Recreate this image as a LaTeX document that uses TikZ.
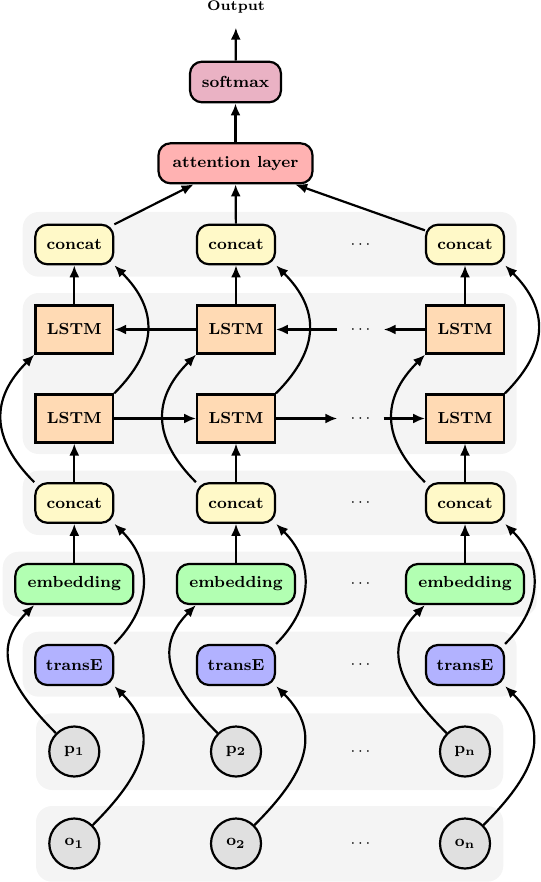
\documentclass[tikz,border=0pt]{standalone}
\usetikzlibrary{arrows.meta}
\definecolor{bandc}{RGB}{244,244,244}
\definecolor{softc}{RGB}{234,178,196}
\definecolor{attc}{RGB}{255,178,178}
\definecolor{catc}{RGB}{255,249,200}
\definecolor{lstmc}{RGB}{255,218,180}
\definecolor{embc}{RGB}{178,255,178}
\definecolor{tec}{RGB}{178,178,255}
\definecolor{circc}{RGB}{224,224,224}
\tikzset{
  box/.style={draw, line width=1.1pt, rounded corners=6pt, font=\footnotesize\bfseries, inner sep=0pt, minimum height=20pt},
  catbox/.style={box, fill=catc, minimum width=39pt, minimum height=19.75pt},
  lstmbox/.style={box, rounded corners=0pt, fill=lstmc, minimum width=38.8pt, minimum height=24pt},
  embbox/.style={box, fill=embc, minimum width=59pt},
  tebox/.style={box, fill=tec, minimum width=39pt},
  ent/.style={circle, draw, line width=1.1pt, fill=circc, minimum size=25pt, inner sep=0pt, font=\footnotesize},
  dotsnode/.style={inner sep=0pt, minimum width=22.75pt, font=\footnotesize},
  arr/.style={-{Latex[length=6pt,width=5pt]}, line width=1.1pt},
  band/.style={fill=bandc, rounded corners=8pt}
}
\begin{document}
\begin{tikzpicture}[x=0.5pt,y=-0.5pt]
\useasboundingbox (0,0) rectangle (540,882);
% background bands
\fill[band] (22.7,212) rectangle (516.7,276.7);
\fill[band] (22.7,293) rectangle (516.7,454);
\fill[band] (22.7,470.7) rectangle (516.7,535);
\fill[band] (2.7,551.7) rectangle (536.7,616.7);
\fill[band] (22.7,631.7) rectangle (516.7,696.7);
\fill[band] (36,713.3) rectangle (503.3,790);
\fill[band] (36,806) rectangle (503.3,881.7);
% top
\node[font=\scriptsize\bfseries, inner sep=0pt] (out) at (236,7) {Output};
\node[box, fill=softc, minimum width=45.5pt, minimum height=20.3pt] (sm) at (235.5,82) {softmax};
\node[box, fill=attc, minimum width=77pt] (att) at (235.5,163.3) {attention layer};
\draw[arr, shorten >=7pt] (sm) -- (out);
\draw[arr] (att) -- (sm);
% columns
\foreach \i/\x/\s in {1/74.3/1,2/236/2,3/465/n}{
  \node[catbox] (cT\i) at (\x,244.5) {concat};
  \node[lstmbox] (lU\i) at (\x,329.5) {LSTM};
  \node[lstmbox] (lL\i) at (\x,418.5) {LSTM};
  \node[catbox] (cM\i) at (\x,503) {concat};
  \node[embbox] (em\i) at (\x,584) {embedding};
  \node[tebox] (te\i) at (\x,665) {transE};
  \node[ent] (p\i) at (\x,751.5) {$\mathbf{p_{\s}}$};
  \node[ent] (o\i) at (\x,843.5) {$\mathbf{o_{\s}}$};
  \draw[arr] (cT\i) -- (att);
  \draw[arr] (lU\i) -- (cT\i);
  \draw[arr] (cM\i) -- (lL\i);
  \draw[arr] (em\i) -- (cM\i);
  \draw[arr] (lL\i.north east) to[out=45, in=-45, looseness=1.25] (cT\i.south east);
  \draw[arr] (cM\i.north west) to[out=135, in=-135, looseness=1.25] (lU\i.south west);
  \draw[arr] (te\i.north east) to[out=45, in=-45, looseness=1.15] (cM\i.south east);
  \draw[arr] (p\i.north west) to[out=135, in=-135, looseness=1.25] (em\i.south -| te\i.west);
  \draw[arr] (o\i.north east) to[out=45, in=-45, looseness=1.25] (te\i.south east);
}
% dots
\node[dotsnode] (dT) at (360.5,244.5) {$\cdots$};
\node[dotsnode] (dU) at (360.5,329.5) {$\cdots$};
\node[dotsnode] (dL) at (360.5,418.5) {$\cdots$};
\node[dotsnode] (dM) at (360.5,503) {$\cdots$};
\node[dotsnode] (dE) at (360.5,584) {$\cdots$};
\node[dotsnode] (dTE) at (360.5,665) {$\cdots$};
\node[dotsnode] (dP) at (360.5,751.5) {$\cdots$};
\node[dotsnode] (dO) at (360.5,843.5) {$\cdots$};
% recurrent connections
\draw[arr] (lL1) -- (lL2);
\draw[arr] (lL2) -- (dL);
\draw[arr] (dL) -- (lL3);
\draw[arr] (lU3) -- (dU);
\draw[arr] (dU) -- (lU2);
\draw[arr] (lU2) -- (lU1);
\end{tikzpicture}
\end{document}
